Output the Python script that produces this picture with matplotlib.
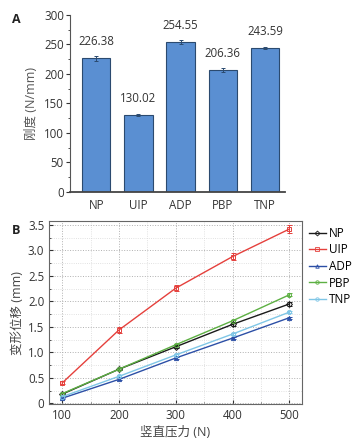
import numpy as np
import matplotlib
matplotlib.use("Agg")
import matplotlib.pyplot as plt
from matplotlib.ticker import MultipleLocator
from matplotlib.lines import Line2D

plt.rcParams['font.family'] = ['Open Sans', 'Noto Sans CJK SC', 'DejaVu Sans']

# --- panel A: stiffness ---
groups = ["NP", "UIP", "ADP", "PBP", "TNP"]
stiffness = [226.38, 130.02, 254.55, 206.36, 243.59]
stiffness_err = [4.0, 2.0, 3.0, 3.0, 2.0]

# --- panel B: deformation vs load ---
load = [100, 200, 300, 400, 500]
disp_np = [0.18, 0.67, 1.11, 1.55, 1.95]
disp_uip = [0.40, 1.44, 2.26, 2.88, 3.42]
disp_adp = [0.10, 0.47, 0.89, 1.28, 1.68]
disp_pbp = [0.19, 0.67, 1.15, 1.62, 2.13]
disp_tnp = [0.13, 0.53, 0.95, 1.36, 1.79]
err_np = [0.02, 0.02, 0.03, 0.03, 0.04]
err_uip = [0.03, 0.06, 0.06, 0.06, 0.07]
err_adp = [0.01, 0.02, 0.02, 0.02, 0.02]
err_pbp = [0.02, 0.02, 0.02, 0.02, 0.03]
err_tnp = [0.01, 0.02, 0.02, 0.02, 0.02]

txt = '#333333'
fig = plt.figure(figsize=(3.56, 4.40), dpi=100)

# ---------- A ----------
ax1 = fig.add_axes([0.197, 0.564, 0.604, 0.402])
x = np.arange(len(groups))
ax1.bar(x, stiffness, width=0.67, color='#5A8FD2', edgecolor='#2B4A6F', linewidth=0.8,
        yerr=stiffness_err, error_kw=dict(ecolor='#2B4A6F', elinewidth=0.7, capsize=1.5, capthick=0.7))
for xi, v in zip(x, stiffness):
    ax1.text(xi, v + 17, f"{v:.2f}", ha='center', va='bottom', fontsize=8.3, color=txt)
ax1.set_xlim(-0.62, 4.48)
ax1.set_ylim(0, 300)
ax1.set_xticks(x)
ax1.set_xticklabels(groups)
ax1.yaxis.set_major_locator(MultipleLocator(50))
ax1.yaxis.set_minor_locator(MultipleLocator(25))
ax1.tick_params(axis='x', length=0, labelsize=8.3, colors=txt, pad=5)
ax1.tick_params(axis='y', which='major', length=3, labelsize=8.3, colors=txt, pad=1.5)
ax1.tick_params(axis='y', which='minor', length=1.5, colors=txt)
for s in ['top', 'right']:
    ax1.spines[s].set_visible(False)
ax1.spines['left'].set_color('#555555')
ax1.spines['bottom'].set_color('#444444')
ax1.spines['bottom'].set_linewidth(1.3)
ax1.set_ylabel("刚度 (N/mm)", fontsize=9, color='#555555', labelpad=4)
fig.text(0.034, 0.948, "A", fontsize=9, fontweight='bold', color='#222222')

# ---------- B ----------
ax2 = fig.add_axes([0.138, 0.081, 0.71, 0.417])
series = [
    ("NP", disp_np, err_np, '#1a1a1a', 'D'),
    ("UIP", disp_uip, err_uip, '#E5403C', 's'),
    ("ADP", disp_adp, err_adp, '#2C4FA6', '^'),
    ("PBP", disp_pbp, err_pbp, '#5DB043', 'o'),
    ("TNP", disp_tnp, err_tnp, '#7FC6E6', 'o'),
]
handles = []
for name, ys, es, c, m in series:
    ax2.errorbar(load, ys, yerr=es, color=c, marker=m, markersize=3, markerfacecolor='none',
                 markeredgewidth=0.7, linewidth=1.0, capsize=1.8, elinewidth=0.7)
    handles.append(Line2D([], [], color=c, marker=m, markersize=2.5, markerfacecolor='none',
                          markeredgewidth=0.6, linewidth=1.0))
ax2.set_xlim(77, 522)
ax2.set_ylim(-0.02, 3.58)
ax2.xaxis.set_major_locator(MultipleLocator(100))
ax2.xaxis.set_minor_locator(MultipleLocator(50))
ax2.yaxis.set_minor_locator(MultipleLocator(0.25))
ax2.set_yticks([0, 0.5, 1.0, 1.5, 2.0, 2.5, 3.0, 3.5])
ax2.set_yticklabels(["0", "0.5", "1.0", "1.5", "2.0", "2.5", "3.0", "3.5"])
ax2.grid(True, which='major', linestyle=':', color='#b0b0b0', linewidth=0.7)
ax2.grid(True, which='minor', linestyle=':', color='#d8d8d8', linewidth=0.6)
ax2.set_axisbelow(True)
ax2.tick_params(which='major', direction='in', length=3, labelsize=8.3, colors=txt)
ax2.tick_params(which='minor', direction='in', length=1.5, colors=txt)
for s in ax2.spines.values():
    s.set_color('#666666')
    s.set_linewidth(0.8)
ax2.set_xlabel("竖直压力 (N)", fontsize=9, color='#444444', labelpad=3)
ax2.set_ylabel("变形位移 (mm)", fontsize=9, color='#444444', labelpad=3)
fig.text(0.034, 0.468, "B", fontsize=9, fontweight='bold', color='#222222')

fig.legend(handles=handles, labels=[s[0] for s in series], loc='upper left',
           bbox_to_anchor=(0.855, 0.495), frameon=False, fontsize=8.5, handlelength=1.4,
           handletextpad=0.3, labelspacing=0.3, borderaxespad=0)

fig.savefig("out.png", dpi=100)
